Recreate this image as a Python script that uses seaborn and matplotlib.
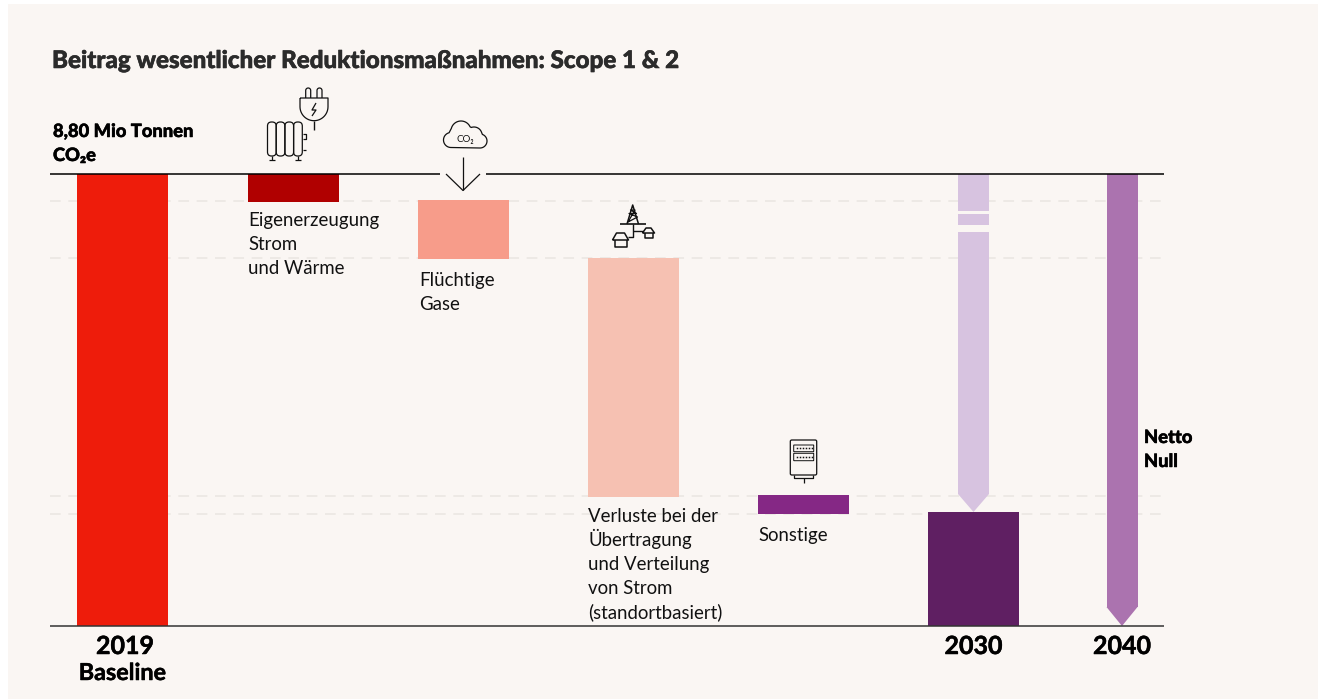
import numpy as np
import matplotlib
matplotlib.use("Agg")
import matplotlib.pyplot as plt
import matplotlib.patheffects as pe
from matplotlib.patches import Rectangle, FancyBboxPatch
import seaborn as sns

# ---------------- data (Mio t CO2e) ----------------
categories = ["2019", "Eigenerzeugung", "Flüchtige Gase", "Verluste", "Sonstige", "2030"]
bar_tops = [8.80, 8.80, 8.29, 7.16, 2.55, 2.22]
bar_bottoms = [0.0, 8.26, 7.14, 2.51, 2.18, 0.0]
bar_colors = ["#EE1C0B", "#B00000", "#F79C8A", "#F6C1B2", "#852885", "#5F1F62"]

guide_levels = [8.27, 7.16, 2.53, 2.19]

arrow_2030_tops = [8.80, 8.02, 7.67]
arrow_2030_bottoms = [8.08, 7.81, 2.57]
arrow_2030_tip = 2.22
arrow_2040_top = 8.80
arrow_2040_head = 0.37
arrow_2040_tip = 0.0

# ---------------- layout (pixels of the 1319x699 picture) ----------------
W, H = 1319, 699
BASE_Y, TOP_Y = 626, 174
bar_x = [122.5, 293.5, 463.5, 633.5, 803.5, 973.5]
X_2030, X_2040 = 973.5, 1122
BAR_W, ARROW_W = 91, 31
LINE_L, LINE_R = 50, 1164
BG = "#FAF6F3"
INK = "#000000"

sns.set_theme(style="white")
plt.rcParams["font.family"] = ["Lato", "DejaVu Sans"]

fig = plt.figure(figsize=(W / 100, H / 100), dpi=100, facecolor="white")
fig.patches.append(Rectangle((8 / W, 0), (W - 9) / W, (H - 4) / H, transform=fig.transFigure,
                             facecolor=BG, edgecolor="none", zorder=-1))

# main axes: x in pixels, y in Mio t
ax = fig.add_axes([0, (H - BASE_Y) / H, 1, (BASE_Y - TOP_Y) / H])
ax.patch.set_alpha(0)

ax.hlines(guide_levels, LINE_L, LINE_R, color="#EAE6E1", lw=1.1, linestyles=(0, (7, 5)), zorder=0)

for x, top, bottom, color in zip(bar_x, bar_tops, bar_bottoms, bar_colors):
    sns.barplot(x=[x], y=[top - bottom], bottom=bottom, width=BAR_W, native_scale=True,
                color=color, saturation=1, errorbar=None, linewidth=0, ax=ax, zorder=2)

# arrow 2030 with its two gaps
for top, bottom in zip(arrow_2030_tops, arrow_2030_bottoms):
    sns.barplot(x=[X_2030], y=[top - bottom], bottom=bottom, width=ARROW_W, native_scale=True,
                color="#D7C3E0", saturation=1, errorbar=None, linewidth=0, ax=ax, zorder=2)
ax.fill([X_2030 - ARROW_W / 2, X_2030 + ARROW_W / 2, X_2030],
        [arrow_2030_bottoms[-1], arrow_2030_bottoms[-1], arrow_2030_tip],
        color="#D7C3E0", lw=0, zorder=2)

# arrow 2040
sns.barplot(x=[X_2040], y=[arrow_2040_top - arrow_2040_head], bottom=arrow_2040_head, width=ARROW_W,
            native_scale=True, color="#AB73AF", saturation=1, errorbar=None, linewidth=0, ax=ax, zorder=2)
ax.fill([X_2040 - ARROW_W / 2, X_2040 + ARROW_W / 2, X_2040],
        [arrow_2040_head, arrow_2040_head, arrow_2040_tip],
        color="#AB73AF", lw=0, zorder=2)

ax.set_xlim(0, W)
ax.set_ylim(0, 8.80)
ax.set_xlabel("")
ax.set_ylabel("")
ax.set_xticks([])
ax.set_yticks([])
sns.despine(ax=ax, left=True, bottom=True)

# top and base lines
ax.hlines([8.80, 8.80], [LINE_L, 486], [440, LINE_R], color=INK, lw=1.1, zorder=3, clip_on=False)
ax.hlines(0, LINE_L, LINE_R, color="#333333", lw=1.1, zorder=3, clip_on=False)

# overlay in pixel coordinates for texts and icons
ov = fig.add_axes([0, 0, 1, 1], zorder=5)
ov.set_xlim(0, W)
ov.set_ylim(H, 0)
ov.axis("off")


def stroke(xs, ys, lw=0.9):
    ov.plot(xs, ys, color="#111111", lw=lw, solid_capstyle="butt", solid_joinstyle="round")


def arc(cx, cy, r, a0, a1):
    t = np.radians(np.linspace(a0, a1, 30))
    return cx + r * np.cos(t), cy - r * np.sin(t)


def box(x0, y0, x1, y1, lw=0.9, rad=1.0, face="none"):
    ov.add_patch(FancyBboxPatch((x0, y0), x1 - x0, y1 - y0, boxstyle=f"round,pad=0,rounding_size={rad}",
                                fc=face, ec="#111111", lw=lw))


# plug
for px in (305.7, 317):
    ax_x, ax_y = arc(px + 2.5, 90.5, 2.5, 180, 0)
    stroke(np.r_[px, ax_x, px + 5], np.r_[98, ax_y, 98])
ax_x, ax_y = arc(314, 106.7, 14, 180, 360)
stroke(np.r_[300, ax_x, 328, 300], np.r_[98, ax_y, 98, 98])
stroke([314, 314], [120.7, 130], lw=1.0)
stroke([316, 312, 316, 312], [103, 110, 110, 116])

# radiator
for i in range(4):
    box(267.5 + i * 8.7, 122, 267.5 + (i + 1) * 8.7, 156, rad=4)
stroke([272, 272], [156, 160])
stroke([269, 275], [160, 160])
stroke([298, 298], [156, 160])
stroke([295, 301], [160, 160])
stroke([302.5, 305.5, 305.5, 302.5], [134, 134, 139, 139])
stroke([302.5, 305.5], [150, 150])

# cloud
parts = [arc(451, 140, 7.5, 270, 105), arc(461, 131, 10, 165, 25), arc(474, 135, 8, 110, 20), arc(480, 141, 7, 70, -90)]
stroke(np.concatenate([p[0] for p in parts] + [[451]]), np.concatenate([p[1] for p in parts] + [[147.5]]))
ov.text(465.5, 142.5, "CO₂", fontsize=7, color="#111111", ha="center", va="baseline")

# arrow below the cloud
stroke([463, 463], [156.7, 190])
stroke([446, 463, 480], [174, 190.5, 174])

# pylon and houses
stroke([620, 646], [224, 224], lw=1.2)
stroke([627, 632.7, 638.5], [224, 205, 224], lw=1.1)
stroke([628, 637.5, 629, 636.5, 630.5, 635, 628], [222, 217, 213.5, 213.5, 210, 210, 222], lw=0.9)
stroke([633, 633, 628.3], [224, 237, 237], lw=1.0)
stroke([633, 643], [231, 231], lw=1.0)
stroke([612.5, 616.5, 624.5, 628.5, 612.5], [240, 233, 233, 240, 240], lw=1.1)
stroke([614.5, 614.5, 626.5, 626.5], [240, 247, 247, 240], lw=1.1)
stroke([642.5, 646, 651, 654.5, 642.5], [233, 228, 228, 233, 233], lw=1.1)
stroke([644.5, 644.5, 652.5, 652.5], [233, 238, 238, 233], lw=1.1)

# meter
box(790.3, 440, 816.7, 475, rad=1.5)
stroke([793.7, 793.7, 813.3, 813.3], [475, 478, 478, 475])
stroke([803.5, 803.5], [478, 482.5])
for y0, y1 in ((445, 451.7), (453.3, 460.7)):
    box(793.7, y0, 813.7, y1, lw=0.7, rad=0.3)
    ov.plot(np.arange(796.5, 812, 3.0), [(y0 + y1) / 2] * 6, ls="none", marker="s", ms=1.1, mew=0, color="#111111")

# heavier look for the bold texts, Lato Black is not picked up
heavy = [pe.withStroke(linewidth=0.35, foreground="#000000")]

# texts: (x, baseline y, string)
body = [
    (248, 226, "Eigenerzeugung"), (248, 250, "Strom"), (248, 274, "und Wärme"),
    (419, 286, "Flüchtige"), (419, 310, "Gase"),
    (588, 522, "Verluste bei der"), (588, 546, "Übertragung"), (588, 570, "und Verteilung"),
    (588, 594, "von Strom"), (588, 618, "(standortbasiert)"),
    (758, 541, "Sonstige"),
]
for x, y, s in body:
    ov.text(x, y, s, fontsize=13.4, color="#111111", ha="left", va="baseline")

for x, y, s in [(53, 137, "8,80 Mio Tonnen"), (53, 161, "CO₂e"), (1144, 443, "Netto"), (1144, 467, "Null")]:
    ov.text(x, y, s, fontsize=13.2, color="#000000", fontweight="black", ha="left", va="baseline",
            path_effects=heavy)

for x, y, s in [(125, 654, "2019"), (122.5, 680, "Baseline"), (973.5, 654, "2030"), (1122, 654, "2040")]:
    ov.text(x, y, s, fontsize=18 if s != "Baseline" else 16.8, color="#000000", fontweight="bold",
            ha="center", va="baseline", path_effects=heavy)

ov.text(52, 68, "Beitrag wesentlicher Reduktionsmaßnahmen: Scope 1 & 2", fontsize=17.4,
        color="#2B2B2B", fontweight="black", ha="left", va="baseline",
        path_effects=[pe.withStroke(linewidth=0.4, foreground="#2B2B2B")])

fig.savefig("out.png", dpi=100, facecolor=fig.get_facecolor())
